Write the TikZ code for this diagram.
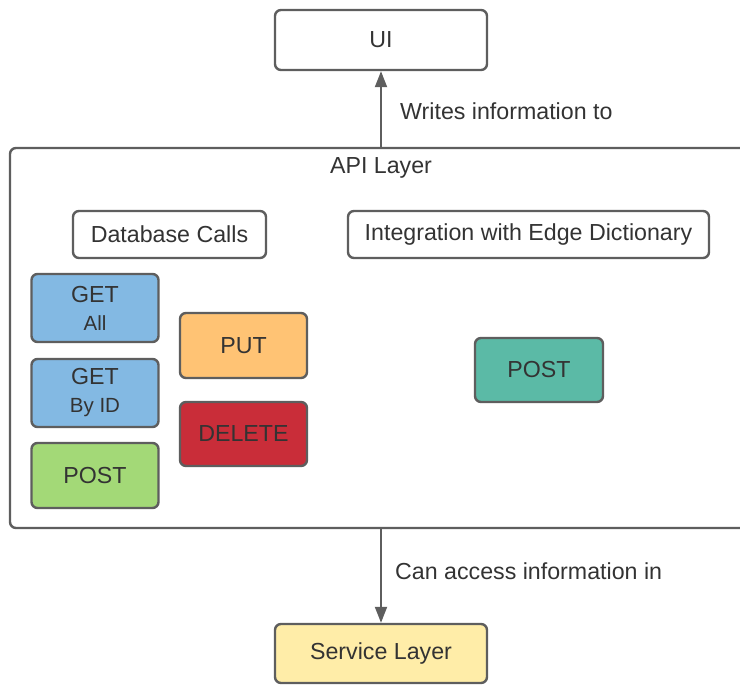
\documentclass[tikz,border=0pt]{standalone}
\usepackage{fontspec}
\setmainfont{Liberation Sans}
\usetikzlibrary{arrows.meta}
\definecolor{edge}{HTML}{5E5E5E}
\definecolor{ink}{HTML}{333333}
\definecolor{getblue}{HTML}{83B9E3}
\definecolor{putorange}{HTML}{FFC374}
\definecolor{delred}{HTML}{C92D39}
\definecolor{postgreen}{HTML}{A3D977}
\definecolor{edgeteal}{HTML}{5BBAA6}
\definecolor{svcyellow}{HTML}{FFEDA8}
\tikzset{
  box/.style={draw=edge, line width=2.4pt, rounded corners=6pt, fill=white,
    text=ink, font=\fontsize{23.2}{27}\selectfont, align=center, inner sep=0pt},
  method/.style={box, minimum width=127pt, minimum height=66pt},
  link/.style={draw=edge, line width=2pt, -{Triangle[width=12pt,length=16pt]}},
  caption/.style={text=ink, font=\fontsize{23.2}{27}\selectfont, inner sep=0pt}
}
\begin{document}
\begin{tikzpicture}[x=1pt, y=-1pt]
\useasboundingbox (0,0) rectangle (740,685);
\begin{scope}
  \clip (0,0) rectangle (740,685);
  % outer container, running past the right edge
  \node (api) [box, minimum width=750pt, minimum height=380pt] at (385,338) {};
\end{scope}
\node (apititle) [caption] at (381,168) {API Layer};

\node (ui) [box, minimum width=212pt, minimum height=60pt] at (381,40) {UI};
\node (svc) [box, fill=svcyellow, minimum width=212pt, minimum height=59pt] at (381,653.5) {Service Layer};

\node (db) [box, minimum width=193pt, minimum height=47pt] at (169.5,234.5) {Database Calls};
\node (integ) [box, minimum width=361pt, minimum height=47pt] at (528.5,234.5) {Integration with Edge Dictionary};

\node (getall) [method, fill=getblue, minimum height=68pt] at (95,308)
  {GET\\[1pt]{\fontsize{20.5}{24}\selectfont All}};
\node (getid) [method, fill=getblue, minimum height=68pt] at (95,393)
  {GET\\[1pt]{\fontsize{20.5}{24}\selectfont By ID}};
\node (post) [method, fill=postgreen, minimum height=65pt] at (95,475.5) {POST};
\node (put) [method, fill=putorange, minimum height=65pt] at (243.5,345.5) {PUT};
\node (delete) [method, fill=delred, minimum height=64pt] at (243.5,434) {DELETE};
\node (epost) [method, fill=edgeteal, minimum width=128pt, minimum height=64pt] at (539,370) {POST};

\draw[link] (ui.south |- api.north) -- (ui.south);
\draw[link] (svc.north |- api.south) -- (svc.north);

\node[caption, anchor=west] at (400,111) {Writes information to};
\node[caption, anchor=west] at (395,571) {Can access information in};
\end{tikzpicture}
\end{document}
